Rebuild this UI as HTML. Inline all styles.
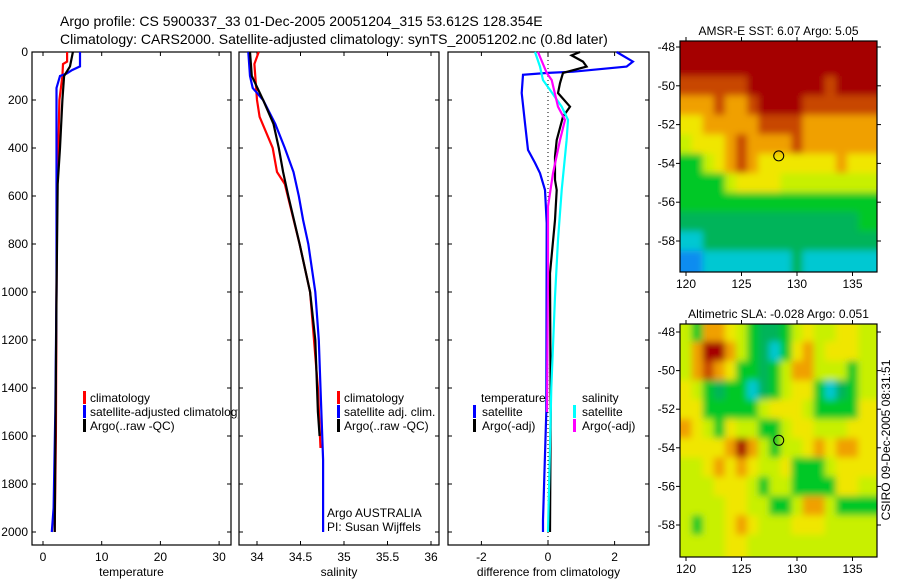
<!DOCTYPE html>
<html><head><meta charset="utf-8"><style>
body{margin:0;background:#fff;}
svg{display:block;font-family:"Liberation Sans",sans-serif;}
text{fill:#000;}
</style></head><body>
<svg id="fig" width="900" height="580" viewBox="0 0 900 580" xmlns="http://www.w3.org/2000/svg">
<defs>
<clipPath id="clipP1"><rect x="0" y="0" width="238" height="580"/></clipPath>
<clipPath id="clipM1"><rect x="680" y="41" width="197" height="231"/></clipPath>
<clipPath id="clipM2"><rect x="680" y="324" width="197" height="233"/></clipPath>
<filter id="blur" x="0" y="0" width="1" height="1"><feGaussianBlur stdDeviation="3.5" edgeMode="duplicate"/></filter>
</defs>
<rect width="900" height="580" fill="#fff"/>
<text x="60" y="26" font-size="14">Argo profile: CS 5900337_33 01-Dec-2005 20051204_315 53.612S 128.354E</text>
<text x="60" y="44" font-size="14">Climatology: CARS2000. Satellite-adjusted climatology: synTS_20051202.nc (0.8d later)</text>
<g id="g"></g>
</svg>
<script>
// ---------- data ----------
const tDepth = [0,40,50,100,200,400,500,550,1000,1600,2000];
const tClim = [4.1,4.1,3.4,3.3,2.8,2.6,2.4,2.4,2.3,2.2,2.0];
const tSatDepth = [0,60,75,90,100,150,1000,1500,1900,2000];
const tSat = [6.3,6.3,5.0,4.0,2.9,2.3,2.3,2.1,1.8,1.5];
const tArgoDepth = [0,60,100,200,400,550,1000,2000];
const tArgo = [5.1,4.6,3.6,3.3,2.9,2.5,2.3,2.0];

const sClimDepth = [0,50,200,270,400,500,550,800,1000,1400,1650];
const sClim = [34.02,33.97,34.0,34.03,34.18,34.23,34.32,34.49,34.61,34.70,34.73];
const sSatDepth = [0,100,150,200,300,400,500,600,700,800,1000,1200,1400,1700,2000];
const sSat = [33.9,33.92,33.95,34.07,34.21,34.32,34.42,34.48,34.53,34.59,34.67,34.71,34.73,34.76,34.76];
const sArgoDepth = [0,100,200,300,400,500,600,800,1000,1200,1500,1600];
const sArgo = [33.92,33.94,34.07,34.19,34.25,34.30,34.36,34.49,34.61,34.67,34.70,34.72];

const dTSatDepth = [0,40,61,82,87,95,171,297,408,462,505,575,713,1500,1950,2000];
const dTSat = [2.06,2.55,2.36,0.76,0,-0.75,-0.79,-0.69,-0.6,-0.39,-0.24,-0.09,-0.04,-0.05,-0.15,-0.15];
const dTArgoDepth = [0,14,40,61,87,130,171,228,269,367,436,533,575,700,922,1500,2000];
const dTArgo = [0.96,0.71,1.05,1.16,0.45,0.36,0.3,0.66,0.45,0.26,0.21,0.21,0.26,0.21,0.06,0.08,0.06];
const dSSatDepth = [0,61,117,158,228,283,367,575,783,1020,1400,2000];
const dSSat = [-0.39,-0.24,-0.15,0.06,0.41,0.6,0.56,0.41,0.3,0.21,0.1,0.0];
const dSArgoDepth = [0,87,117,228,283,367,505,644,922,1500];
const dSArgo = [-0.3,-0.04,0.11,0.3,0.51,0.36,0.15,0,0,-0.03];

const depthTicks = [0,200,400,600,800,1000,1200,1400,1600,1800,2000];
const tTicks = [0,10,20,30];
const sTicks = [34,34.5,35,35.5,36];
const sTickLabels = ["34","34.5","35","35.5","36"];
const dTicks = [-2,0,2];
const lonTicks = [120,125,130,135];
const latTicks = [-48,-50,-52,-54,-56,-58];

const mapLons = [120,121,122,123,124,125,126,127,128,129,130,131,132,133,134,135,136];
const mapLats = [-48,-49,-50,-51,-52,-53,-54,-55,-56,-57,-58,-59];
const sstGrid = [
[8,8,8,8,8,8,8,8,8,8,8,8,8,8,8,8,8],
[8,8,8,8,8,8,8,8,8,8,8,8,8,8,8,8,8],
[7,7,7,7,7,7,8,8,8,8,8,8,8,7,8,8,8],
[6,6,6,7,6,6,7,8,8,8,8,7,7,7,7,7,7],
[5,5,6,6,6,6,6,7,7,7,7,6,6,6,6,6,6],
[4,5,5,5,6,7,6,6,6,6,7,6,6,6,6,6,6],
[3,3,4,5,6,7,6,5,5,5,5,5,5,5,6,5,5],
[3,3,3,3,4,5,5,5,5,4,4,4,4,4,4,4,4],
[3,3,3,3,3,3,3,3,3,3,3,3,3,3,3,3,3],
[2,2,2,2,2,2,2,2,2,2,2,2,2,2,2,2,3],
[1,1,2,2,2,2,2,2,2,2,2,2,2,2,2,2,2],
[0,0,1,1,1,1,1,1,1,1,2,1,1,1,1,1,1]];
const slaGrid = [
[4,3,6,6,5,4,3,2,2,3,4,5,4,4,5,5,4],
[4,6,8,8,6,4,3,2,1,3,5,6,4,5,5,5,4],
[4,6,7,6,5,3,3,2,3,4,6,6,4,4,4,3,4],
[5,4,3,2,3,3,1,2,3,4,5,5,3,1,2,3,4],
[5,5,3,3,3,3,3,4,5,5,5,4,3,3,3,3,5],
[6,5,4,3,5,4,4,3,3,4,5,5,4,4,4,5,5],
[5,5,5,5,6,8,6,4,3,4,4,5,6,5,6,6,5],
[4,4,5,6,5,6,5,4,4,5,3,3,3,4,5,5,5],
[4,4,4,5,5,5,4,3,4,4,3,3,3,3,5,5,4],
[4,4,4,4,5,5,4,4,3,3,4,6,6,4,3,3,3],
[4,3,4,4,5,6,5,4,4,4,5,5,5,4,4,4,4],
[4,4,4,4,5,5,4,4,4,4,4,4,4,4,4,4,4]];
const floatLon = 128.354, floatLat = -53.612;

// ---------- helpers ----------
const NS="http://www.w3.org/2000/svg";
const G=document.getElementById('g');
function el(tag,attrs,parent){const e=document.createElementNS(NS,tag);for(const k in attrs)e.setAttribute(k,attrs[k]);(parent||G).appendChild(e);return e;}
function txt(x,y,s,size,anchor,parent){const t=el('text',{x:x,y:y,'font-size':size||12,'text-anchor':anchor||'start'},parent);t.textContent=s;return t;}
const cmap=['#0a8cf0','#00c8d2','#00b45a','#00c828','#c8f000','#f0e600','#f0a000','#c84600','#a50000'];

const yTop=52, yPerM=0.24, yBot=545;
const yD=d=>yTop+d*yPerM;
const panels=[
 {name:'temperature-panel',x0:32,x1:231,xs:v=>43+v*5.87,ticks:tTicks,labels:tTicks.map(String),xlabel:'temperature',ylab:true},
 {name:'salinity-panel',x0:239,x1:439,xs:v=>257+(v-34)*87,ticks:sTicks,labels:sTickLabels,xlabel:'salinity'},
 {name:'difference-panel',x0:448,x1:649,xs:v=>548+v*33.3,ticks:dTicks,labels:dTicks.map(String),xlabel:'difference from climatology'}
];
panels.forEach(p=>{
  const g=el('g',{});
  
  
  const f=el('rect',{x:p.x0,y:yTop,width:p.x1-p.x0,height:yBot-yTop,fill:'none',stroke:'#000','stroke-width':1.2},g);
  
  
  depthTicks.forEach(d=>{
    el('line',{x1:p.x0,x2:p.x0+4,y1:yD(d),y2:yD(d),stroke:'#000'},g);
    el('line',{x1:p.x1-4,x2:p.x1,y1:yD(d),y2:yD(d),stroke:'#000'},g);
    if(p.ylab){const t=txt(p.x0-4,yD(d)+4,String(d),12,'end',g);}
  });
  p.ticks.forEach((v,i)=>{
    const x=p.xs(v);
    el('line',{x1:x,x2:x,y1:yBot,y2:yBot-4,stroke:'#000'},g);
    el('line',{x1:x,x2:x,y1:yTop,y2:yTop+4,stroke:'#000'},g);
    const t=txt(x,yBot+16,p.labels[i],12,'middle',g);
    
    
  });
  const xl=txt((p.x0+p.x1)/2,yBot+31,p.xlabel,12,'middle',g);
  
  
  p.g=g;
});
function line(p,depths,vals,color,name){
  const pts=depths.map((d,i)=>p.xs(vals[i]).toFixed(1)+','+yD(d).toFixed(1)).join(' ');
  const l=el('polyline',{points:pts,fill:'none',stroke:color,'stroke-width':2.2,'stroke-linejoin':'miter'},p.g);
  
  
}
const [P1,P2,P3]=panels;
line(P1,tDepth,tClim,'#ff0000','temperature-climatology-line');
line(P1,tSatDepth,tSat,'#0000ff','temperature-satellite-line');
line(P1,tArgoDepth,tArgo,'#000000','temperature-argo-line');
line(P2,sClimDepth,sClim,'#ff0000','salinity-climatology-line');
line(P2,sSatDepth,sSat,'#0000ff','salinity-satellite-line');
line(P2,sArgoDepth,sArgo,'#000000','salinity-argo-line');
el('line',{x1:P3.xs(0),x2:P3.xs(0),y1:yTop,y2:yBot,stroke:'#000','stroke-dasharray':'1,3'},P3.g);
line(P3,dTSatDepth,dTSat,'#0000ff','diff-temperature-satellite-line');
line(P3,dTArgoDepth,dTArgo,'#000000','diff-temperature-argo-line');
line(P3,dSSatDepth,dSSat,'#00ffff','diff-salinity-satellite-line');
line(P3,dSArgoDepth,dSArgo,'#ff00ff','diff-salinity-argo-line');

function legend(entries){
  entries.forEach(e=>{
    const g=el('g',{});
    
    
    if(e.clip) g.setAttribute('clip-path','url(#clipP1)');
    if(e.c) el('rect',{x:e.mx,y:e.y-11,width:3,height:13,fill:e.c},g);
    txt(e.tx,e.y,e.s,12,'start',g);
  });
}
legend([
 {mx:83,tx:90,y:402,c:'#ff0000',s:'climatology'},
 {mx:83,tx:90,y:416,c:'#0000ff',s:'satellite-adjusted climatology',clip:true},
 {mx:83,tx:90,y:430,c:'#000000',s:'Argo(..raw -QC)'},
 {mx:337,tx:344,y:402,c:'#ff0000',s:'climatology'},
 {mx:337,tx:344,y:416,c:'#0000ff',s:'satellite adj. clim.'},
 {mx:337,tx:344,y:430,c:'#000000',s:'Argo(..raw -QC)'},
 {tx:481,y:402,s:'temperature'},
 {mx:473,tx:482,y:416,c:'#0000ff',s:'satellite'},
 {mx:473,tx:482,y:430,c:'#000000',s:'Argo(-adj)'},
 {tx:582,y:402,s:'salinity'},
 {mx:573,tx:582,y:416,c:'#00ffff',s:'satellite'},
 {mx:573,tx:582,y:430,c:'#ff00ff',s:'Argo(-adj)'}
]);
const pi1=txt(327,517,'Argo AUSTRALIA',12,'start',P2.g);


const pi2=txt(327,531,'PI: Susan Wijffels',12,'start',P2.g);



// ---------- maps ----------
function drawMap(name,grid,x0,x1,yT,yB,latY48,pxPerDegLat,title,clipId){
  const g=el('g',{});
  
  
  const lonX=l=>686+(l-120)*11.1;
  const latY=l=>latY48+(-48-l)*pxPerDegLat;
  const clipG=el('g',{'clip-path':'url(#'+clipId+')'},g);
  const cg=el('g',{filter:'url(#blur)'},clipG);
  mapLats.forEach((la,r)=>{
    mapLons.forEach((lo,c)=>{
      let xa=lonX(lo-0.5), xb=lonX(lo+0.5);
      let ya=latY(la+0.5), yb=latY(la-0.5);
      if(r===0) ya=yT-10; if(r===mapLats.length-1) yb=yB+10;
      if(c===0) xa=x0-10; if(c===mapLons.length-1) xb=x1+10;
      const cell=el('rect',{x:xa,y:ya,width:xb-xa+0.6,height:yb-ya+0.6,fill:cmap[grid[r][c]]},cg);
      
      
    });
  });
  el('rect',{x:x0,y:yT,width:x1-x0,height:yB-yT,fill:'none',stroke:'#000','stroke-width':1.2},g);
  lonTicks.forEach(l=>{
    const x=lonX(l);
    el('line',{x1:x,x2:x,y1:yB,y2:yB+4,stroke:'#000'},g);
    el('line',{x1:x,x2:x,y1:yT,y2:yT-4,stroke:'#000'},g);
    const t=txt(x,yB+16,String(l),12,'middle',g);
    
    
  });
  latTicks.forEach(l=>{
    const y=latY(l);
    el('line',{x1:x0,x2:x0-4,y1:y,y2:y,stroke:'#000'},g);
    el('line',{x1:x1,x2:x1+4,y1:y,y2:y,stroke:'#000'},g);
    const t=txt(x0-5,y+4,String(l),12,'end',g);
    
    
  });
  const c=el('circle',{cx:lonX(floatLon),cy:latY(floatLat),r:5,fill:'none',stroke:'#000','stroke-width':1},g);
  
  
  const t=txt((x0+x1)/2,yT-6,title,12,'middle',g);
  
  
}
drawMap('sst-map',sstGrid,680,877,41,272,47,19.4,'AMSR-E SST: 6.07 Argo: 5.05','clipM1');
drawMap('sla-map',slaGrid,680,877,324,557,332,19.3,'Altimetric SLA: -0.028 Argo: 0.051','clipM2');
const cs=txt(0,0,'CSIRO 09-Dec-2005 08:31:51',12,'middle');
cs.setAttribute('transform','translate(890,440) rotate(-90)');


</script>
</body></html>
